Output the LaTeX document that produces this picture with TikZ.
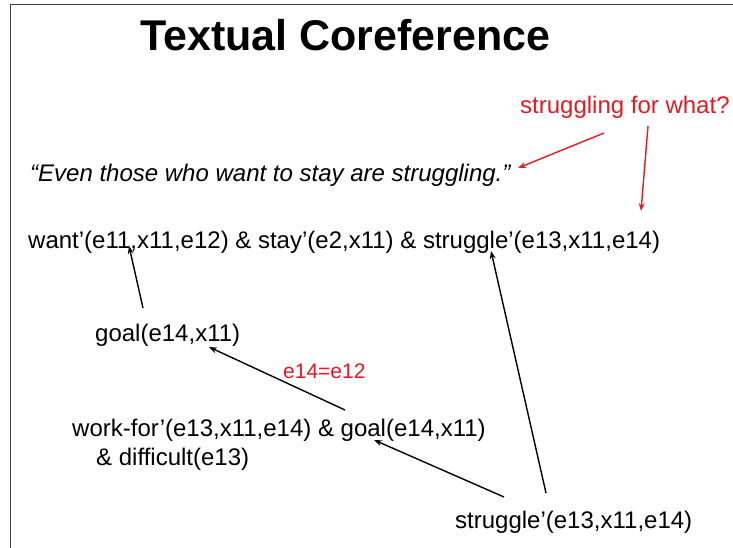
\documentclass[tikz,border=0pt]{standalone}
\usepackage{fontspec}
\setmainfont{Liberation Sans}
\usetikzlibrary{arrows.meta}
\definecolor{myred}{RGB}{230,25,35}
\begin{document}
\begin{tikzpicture}[x=1pt,y=-1pt,
  txt/.style={anchor=base west,inner sep=0pt,font=\fontsize{24}{28}\selectfont},
  redtxt/.style={txt,text=myred},
  arr/.style={draw=black,line width=1.4pt,-{Stealth[length=8pt,width=6pt]}},
  rarr/.style={arr,draw=myred}]
\useasboundingbox (0,0) rectangle (733,548);
% frame
\draw[line width=1.5pt,black!75] (10.5,548) -- (10.5,4.5) -- (733,4.5);
% texts
\node[anchor=base west,inner sep=0pt,font=\fontsize{43}{50}\selectfont\bfseries] (title) at (140,51) {Textual Coreference};
\node[redtxt] (q) at (520,114) {struggling for what?};
\node[txt,font=\fontsize{24}{28}\selectfont\itshape] (quote) at (30,182) {“Even those who want to stay are struggling.”};
\node[txt] (formula) at (28,248) {want’(e11,x11,e12) \& stay’(e2,x11) \& struggle’(e13,x11,e14)};
\node[txt] (goal) at (95,341) {goal(e14,x11)};
\node[redtxt,font=\fontsize{21}{25}\selectfont] (eq) at (283,378) {e14=e12};
\node[txt] (workfor) at (72,436) {work-for’(e13,x11,e14) \& goal(e14,x11)};
\node[txt] (difficult) at (96,465) {\& difficult(e13)};
\node[txt] (struggle) at (455,528) {struggle’(e13,x11,e14)};
% connector end points
\coordinate (q1) at (604,133);
\coordinate (q1t) at (518,168);
\coordinate (q2) at (648,126);
\coordinate (q2t) at (641,211);
\coordinate (g1) at (143,308);
\coordinate (g1t) at (129,246);
\coordinate (w1) at (345,410);
\coordinate (w1t) at (209,347);
\coordinate (s1) at (504,497);
\coordinate (s1t) at (374,440);
\coordinate (s2) at (546,493);
\coordinate (s2t) at (491,251);
% connectors
\draw[rarr] (q1) -- (q1t);
\draw[rarr] (q2) -- (q2t);
\draw[arr] (g1) -- (g1t);
\draw[arr] (w1) -- (w1t);
\draw[arr] (s1) -- (s1t);
\draw[arr] (s2) -- (s2t);
\end{tikzpicture}
\end{document}
